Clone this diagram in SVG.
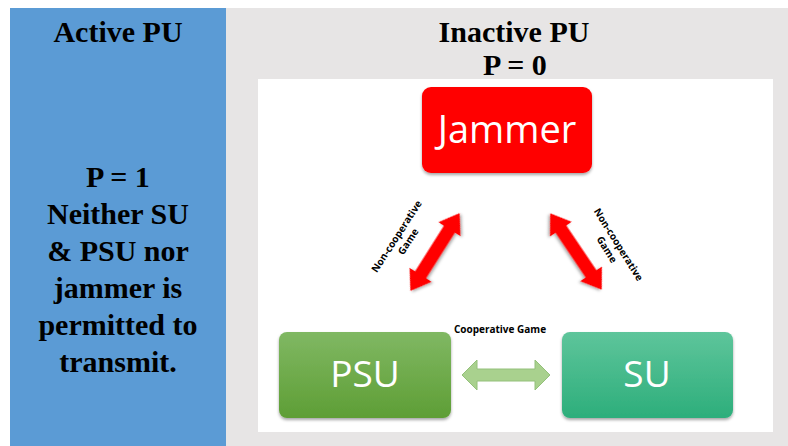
<svg xmlns="http://www.w3.org/2000/svg" width="788" height="446" viewBox="0 0 788 446">
<defs>
<linearGradient id="gPsu" x1="0" y1="0" x2="0" y2="1"><stop offset="0" stop-color="#80B863"/><stop offset="1" stop-color="#5E9E35"/></linearGradient>
<linearGradient id="gSu" x1="0" y1="0" x2="0" y2="1"><stop offset="0" stop-color="#5EC59B"/><stop offset="1" stop-color="#2DAE7B"/></linearGradient>
<filter id="sh" x="-10%" y="-10%" width="120%" height="130%"><feDropShadow dx="0" dy="2" stdDeviation="1.5" flood-color="#000" flood-opacity="0.35"/></filter>
<path id="dbl" d="M-46,0 L-27,-13 L-27,-6.5 L27,-6.5 L27,-13 L46,0 L27,13 L27,6.5 L-27,6.5 L-27,13 Z"/>
</defs>
<style>
.h{font-family:"Liberation Serif","Times New Roman",serif;font-weight:bold;font-size:30px;fill:#000;text-anchor:middle}
.n{font-family:"Open Sans","Noto Sans",sans-serif;fill:#fff;text-anchor:middle}
.l{font-family:"Open Sans","Noto Sans",sans-serif;font-weight:bold;font-size:10px;fill:#000;text-anchor:middle}
</style>
<rect x="0" y="0" width="788" height="446" fill="#fff"/>
<rect x="10" y="8" width="216" height="438" fill="#5B9BD5"/>
<rect x="226" y="8" width="562" height="438" fill="#E7E5E5"/>
<rect x="258" y="79" width="515" height="353" fill="#fff"/>
<g id="left-text">
<text class="h" x="118" y="42">Active PU</text>
<text class="h" x="118" y="187">P = 1</text>
<text class="h" x="118" y="224">Neither SU</text>
<text class="h" x="118" y="261">&amp; PSU nor</text>
<text class="h" x="118" y="298">jammer is</text>
<text class="h" x="118" y="335">permitted to</text>
<text class="h" x="118" y="372">transmit.</text>
</g>
<g id="right-title">
<text class="h" x="514" y="42">Inactive PU</text>
<text class="h" x="515" y="75">P = 0</text>
</g>
<g id="connectors">
<use href="#dbl" fill="#FF0000" filter="url(#sh)" transform="translate(435,252) rotate(-57.7)"/>
<use href="#dbl" fill="#FF0000" filter="url(#sh)" transform="translate(576,251.5) rotate(56)"/>
<path d="M462,375 L477,360 L477,369 L535,369 L535,360 L550,375 L535,390 L535,381 L477,381 L477,390 Z" fill="#A9D18E" stroke="#94C07A" stroke-width="1"/>
<g transform="translate(402,240) rotate(-57)">
<text class="l" x="0" y="-3">Non-cooperative</text>
<text class="l" x="2" y="9.5">Game</text>
</g>
<g transform="translate(613,248) rotate(58)">
<text class="l" x="0" y="-3">Non-cooperative</text>
<text class="l" x="-2" y="9.5">Game</text>
</g>
<text class="l" x="500" y="333" font-size="10.5">Cooperative Game</text>
</g>
<g id="jammer">
<rect x="422" y="87" width="170" height="86" rx="9" fill="#FF0000" filter="url(#sh)"/>
<text class="n" x="507" y="143" font-size="38">Jammer</text>
</g>
<g id="psu">
<rect x="279" y="332" width="172" height="86" rx="8" fill="url(#gPsu)" filter="url(#sh)"/>
<text class="n" x="365" y="387" font-size="37">PSU</text>
</g>
<g id="su">
<rect x="562" y="332" width="171" height="86" rx="8" fill="url(#gSu)" filter="url(#sh)"/>
<text class="n" x="647" y="387" font-size="37">SU</text>
</g>
</svg>
